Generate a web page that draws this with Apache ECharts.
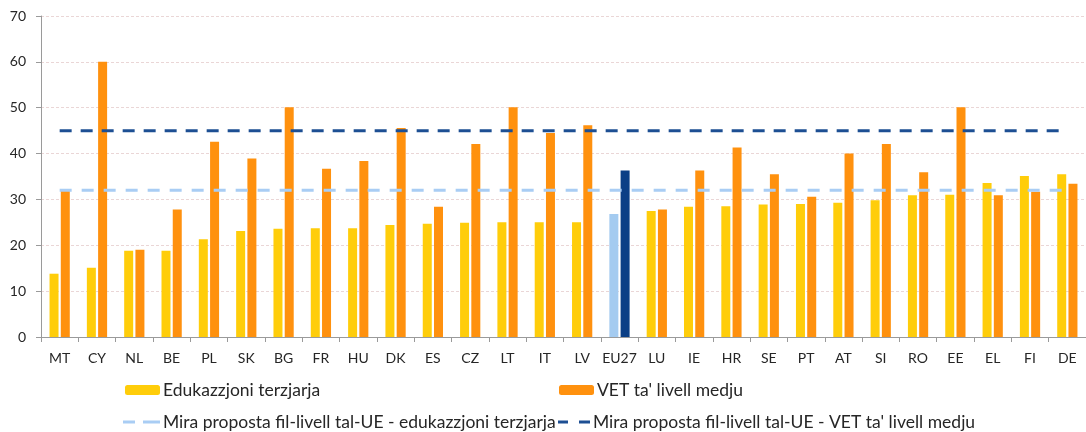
<!DOCTYPE html>
<html>
<head>
<meta charset="utf-8">
<script src="https://cdn.jsdelivr.net/npm/echarts@6/dist/echarts.min.js"></script>
<style>
  html, body { margin: 0; padding: 0; background: #fff; }
  #chart { width: 1086px; height: 432px; }
</style>
</head>
<body>
<div id="chart"></div>
<script>
// Country codes along the x axis
const countries = ['MT','CY','NL','BE','PL','SK','BG','FR','HU','DK','ES','CZ','LT','IT','LV','EU27','LU','IE','HR','SE','PT','AT','SI','RO','EE','EL','FI','DE'];

// Share of graduates in work-based learning, tertiary education (%)
const tertiary = [13.8,15.1,18.8,18.8,21.3,23.1,23.6,23.7,23.7,24.4,24.7,24.9,25.0,25.0,25.0,26.8,27.5,28.4,28.5,28.9,29.0,29.3,29.8,30.9,31.0,33.6,35.1,35.5];

// Share of graduates in work-based learning, medium-level VET (%)
const vet = [32.0,60.0,19.0,27.8,42.6,38.9,50.1,36.7,38.4,45.6,28.4,42.1,50.1,44.5,46.2,36.3,27.8,36.3,41.3,35.5,30.6,40.0,42.1,35.9,50.1,30.9,31.7,33.4];

// Proposed EU-level targets (%)
const targetTertiary = 32;
const targetVet = 45;

const yTicks = [0, 10, 20, 30, 40, 50, 60, 70];

const labels = {
  tertiary: 'Edukazzjoni terzjarja',
  vet: "VET ta' livell medju",
  targetTertiary: 'Mira proposta fil-livell tal-UE - edukazzjoni terzjarja',
  targetVet: "Mira proposta fil-livell tal-UE - VET ta' livell medju"
};

const FONT = "Lato, 'Open Sans', sans-serif";
const YELLOW = '#FFCD0A';
const ORANGE = '#FF910E';
const EU_LIGHT = '#A4CBF0';
const EU_DARK = '#0B3F86';
const LINE_LIGHT = '#A9CDF4';
const LINE_DARK = '#1D4F93';

// Two-dash legend glyphs for the target lines
const DASH_ICON_LIGHT = 'path://M0,0H12V3H0Z M20,0H37V3H20Z';
const DASH_ICON_DARK = 'path://M0,0H10V3H0Z M21,0H32V3H21Z';

const tertiaryData = tertiary.map((v, i) => countries[i] === 'EU27'
  ? { value: v, itemStyle: { color: EU_LIGHT } } : v);
const vetData = vet.map((v, i) => countries[i] === 'EU27'
  ? { value: v, itemStyle: { color: EU_DARK } } : v);

function legendAt(name, left, top, opts) {
  return Object.assign({
    data: [name],
    left: left,
    top: top,
    itemWidth: 35,
    itemHeight: 10,
    itemGap: 0,
    padding: 0,
    textStyle: { fontFamily: FONT, fontSize: 17.5, color: '#262626', padding: [0, 0, 0, -2] }
  }, opts || {});
}

const chart = echarts.init(document.getElementById('chart'), null, { renderer: 'canvas' });
chart.setOption({
  animation: false,
  backgroundColor: '#ffffff',
  grid: { left: 41, right: -11, top: 16, bottom: 95, containLabel: false },
  legend: [
    legendAt(labels.tertiary, 125, 381),
    legendAt(labels.vet, 559, 381),
    legendAt(labels.targetTertiary, 123, 413, {
      data: [{ name: labels.targetTertiary, icon: DASH_ICON_LIGHT }],
      itemWidth: 37, itemHeight: 3
    }),
    legendAt(labels.targetVet, 558, 413, {
      data: [{ name: labels.targetVet, icon: DASH_ICON_DARK }],
      itemWidth: 32, itemHeight: 3
    })
  ],
  xAxis: {
    type: 'category',
    data: countries,
    axisLine: { lineStyle: { color: '#9a9a9a', width: 1 } },
    axisTick: { show: true, interval: 0, length: 5, lineStyle: { color: '#9a9a9a' } },
    axisLabel: { interval: 0, margin: 14, fontFamily: FONT, fontSize: 14, color: '#262626' }
  },
  yAxis: {
    type: 'value',
    min: yTicks[0],
    max: yTicks[yTicks.length - 1],
    interval: 10,
    axisLine: { show: true, lineStyle: { color: '#9a9a9a', width: 1 } },
    axisTick: { show: true, length: 5, lineStyle: { color: '#9a9a9a' } },
    axisLabel: { margin: 15, fontFamily: FONT, fontSize: 14, color: '#262626' },
    splitLine: { show: true, lineStyle: { color: '#ead6d6', width: 1, type: [3, 2] } }
  },
  series: [
    {
      name: labels.tertiary,
      type: 'bar',
      data: tertiaryData,
      barWidth: 9,
      barGap: '25%',
      itemStyle: { color: YELLOW }
    },
    {
      name: labels.vet,
      type: 'bar',
      data: vetData,
      barWidth: 9,
      barGap: '25%',
      itemStyle: { color: ORANGE }
    },
    {
      name: labels.targetTertiary,
      type: 'line',
      data: countries.map(() => targetTertiary),
      symbol: 'none',
      z: 5,
      lineStyle: { color: LINE_LIGHT, width: 3, type: [12, 10] },
      itemStyle: { color: LINE_LIGHT }
    },
    {
      name: labels.targetVet,
      type: 'line',
      data: countries.map(() => targetVet),
      symbol: 'none',
      z: 6,
      lineStyle: { color: LINE_DARK, width: 3, type: [12, 9] },
      itemStyle: { color: LINE_DARK }
    }
  ]
});
</script>
</body>
</html>
